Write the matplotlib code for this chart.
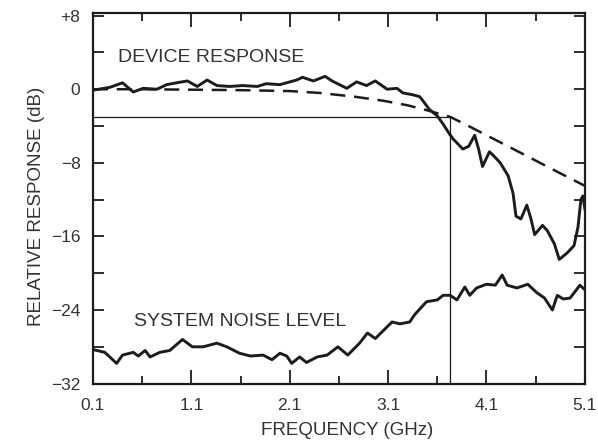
import numpy as np
import matplotlib.pyplot as plt
from matplotlib.ticker import MultipleLocator, FixedLocator

plt.rcParams['font.family'] = ['Liberation Sans', 'DejaVu Sans']

# ---- data ----
dev_f = [0.10, 0.27, 0.40, 0.51, 0.61, 0.75, 0.85, 0.95, 1.06, 1.16, 1.26, 1.36,
         1.49, 1.62, 1.77, 1.86, 2.00, 2.17, 2.23, 2.34, 2.46, 2.53, 2.68, 2.78,
         2.88, 2.97, 3.09, 3.19, 3.25, 3.35, 3.42, 3.45, 3.52, 3.60, 3.66, 3.72,
         3.76, 3.86, 3.92, 3.98, 4.02, 4.06, 4.13, 4.17, 4.24, 4.32, 4.37, 4.40,
         4.45, 4.51, 4.55, 4.59, 4.67, 4.72, 4.79, 4.84, 4.92, 4.99, 5.03, 5.06,
         5.08, 5.10]
dev_db = [-0.1, 0.2, 0.7, -0.3, 0.1, 0.0, 0.5, 0.7, 0.9, 0.3, 1.0, 0.4,
          0.3, 0.4, 0.3, 0.6, 0.5, 1.0, 1.3, 0.9, 1.4, 0.9, 0.1, 0.8,
          0.4, 0.9, 0.0, 0.1, -0.4, -0.6, -0.8, -1.2, -2.2, -2.9, -3.8, -4.8,
          -5.4, -6.5, -6.2, -5.0, -6.5, -8.4, -6.8, -7.2, -8.0, -9.4, -11.3, -13.8,
          -14.1, -12.6, -14.0, -15.8, -14.8, -15.4, -16.8, -18.5, -17.8, -17.0, -15.0, -12.0,
          -11.6, -13.0]

model_f = [0.1, 0.6, 1.1, 1.6, 2.1, 2.4, 2.75, 3.05, 3.3, 3.5, 3.73, 3.9,
           4.1, 4.3, 4.5, 4.77, 5.1]
model_db = [0.0, 0.0, -0.05, -0.1, -0.2, -0.4, -0.8, -1.25, -1.75, -2.3, -3.0, -3.9,
            -5.0, -6.1, -7.2, -8.7, -10.5]

noise_f = [0.10, 0.14, 0.22, 0.34, 0.40, 0.51, 0.56, 0.63, 0.68, 0.78, 0.88, 1.01,
           1.11, 1.22, 1.36, 1.46, 1.59, 1.70, 1.83, 1.92, 2.00, 2.07, 2.12, 2.20,
           2.27, 2.38, 2.48, 2.59, 2.69, 2.81, 2.89, 2.97, 3.14, 3.22, 3.32, 3.37,
           3.49, 3.60, 3.66, 3.73, 3.80, 3.88, 3.93, 4.00, 4.10, 4.19, 4.26, 4.31,
           4.41, 4.52, 4.61, 4.69, 4.77, 4.82, 4.88, 4.95, 5.05, 5.10]
noise_db = [-28.3, -28.4, -28.6, -29.8, -28.9, -28.6, -29.0, -28.4, -29.1, -28.6, -28.4, -27.2,
            -28.0, -28.0, -27.6, -28.0, -28.7, -29.0, -28.9, -29.4, -28.7, -29.0, -29.8, -29.1,
            -29.7, -29.1, -28.9, -28.0, -28.9, -27.6, -26.5, -27.1, -25.3, -25.5, -25.3, -24.5,
            -23.1, -22.9, -22.4, -22.4, -22.9, -21.5, -22.4, -21.6, -21.2, -21.3, -20.2, -21.3,
            -21.6, -21.2, -22.1, -22.7, -24.0, -22.4, -22.8, -22.7, -21.3, -21.8]

cutoff_f = 3.73
cutoff_db = -3.0

x_ticks = [0.1, 1.1, 2.1, 3.1, 4.1, 5.1]
y_ticks = [8, 0, -8, -16, -24, -32]
y_labels = ['+8', '0', '\u22128', '\u221216', '\u221224', '\u221232']

ink = '#1c1c1c'
txt = '#333333'

fig = plt.figure(figsize=(5.98, 4.44), dpi=100)
ax = fig.add_axes([0.1555, 0.136, 0.8225, 0.835])

ax.plot(dev_f, dev_db, color=ink, lw=2.1, solid_joinstyle='round')
ax.plot(model_f, model_db, color=ink, lw=1.8, dashes=(6, 3.5))
ax.plot(noise_f, noise_db, color=ink, lw=2.1, solid_joinstyle='round')

# -3 dB marker lines
ax.plot([0.1, cutoff_f], [cutoff_db, cutoff_db], color=ink, lw=0.9)
ax.plot([cutoff_f, cutoff_f], [cutoff_db, -32], color=ink, lw=0.9)

ax.text(0.35, 3.5, 'DEVICE RESPONSE', fontsize=14, color=txt, va='center')
ax.text(0.52, -25.2, 'SYSTEM NOISE LEVEL', fontsize=14, color=txt, va='center')

ax.set_xlim(0.1, 5.1)
ax.set_ylim(-32, 8.3)
ax.set_xticks(x_ticks)
ax.set_xticklabels([str(v) for v in x_ticks])
ax.xaxis.set_minor_locator(FixedLocator([0.6, 1.6, 2.6, 3.6, 4.6]))
ax.set_yticks(y_ticks)
ax.set_yticklabels(y_labels)
ax.yaxis.set_minor_locator(MultipleLocator(4))

ax.tick_params(which='both', direction='in', top=True, right=True, color=ink,
               labelsize=12.5, labelcolor=txt, width=1.3)
ax.tick_params(axis='x', which='major', length=10, pad=10)
ax.tick_params(axis='x', which='minor', length=6)
ax.tick_params(axis='y', which='major', length=8, pad=9)
ax.tick_params(axis='y', which='minor', length=8)

for s in ax.spines.values():
    s.set_linewidth(1.6)
    s.set_color(ink)

ax.set_xlabel('FREQUENCY (GHz)', fontsize=13.5, color=txt)
ax.set_ylabel('RELATIVE RESPONSE (dB)', fontsize=13.5, color=txt)
ax.xaxis.set_label_coords(0.516, -0.103)
ax.yaxis.set_label_coords(-0.098, 0.478)

fig.savefig('out.png', dpi=100)
